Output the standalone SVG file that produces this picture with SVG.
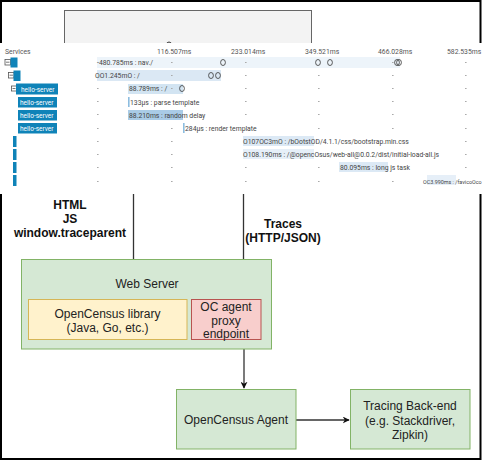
<svg xmlns="http://www.w3.org/2000/svg" width="482" height="461" viewBox="0 0 482 461">
<defs>
<style>
.lbl{font-family:"Liberation Sans",Arial,sans-serif;font-size:12px;fill:#222;text-anchor:middle}
.bold{font-weight:bold;fill:#111}
.ss{font-family:Roboto,"Liberation Sans",sans-serif;font-size:6.8px;fill:#444}
.ax{font-family:Roboto,"Liberation Sans",sans-serif;font-size:6.8px;fill:#555}
.hs{font-family:Roboto,"Liberation Sans",sans-serif;font-size:6.5px;fill:#fff}
.svc{fill:#0f83b8}
.dot{fill:#aaa}
.circ{fill:none;stroke:#333;stroke-width:0.8}
.icon{fill:#fff;stroke:#555;stroke-width:0.8}
.conn{stroke:#333;stroke-width:1.3;fill:none}
</style>
<marker id="arr" viewBox="0 0 10 10" refX="9" refY="5" markerWidth="7" markerHeight="7" markerUnits="userSpaceOnUse" orient="auto">
<path d="M0,0 L10,5 L0,10 L3,5 z" fill="#111"/>
</marker>
</defs>
<rect width="482" height="461" fill="#fff"/>
<rect x="1" y="1" width="479.5" height="458" fill="none" stroke="#000" stroke-width="2"/>
<rect x="64.5" y="10.5" width="247" height="40" fill="#f3f3f3" stroke="#666" stroke-width="1"/>
<ellipse cx="169" cy="45" rx="2.5" ry="3" fill="none" stroke="#333" stroke-width="1"/>

<g id="screenshot">
<rect x="0" y="43" width="482" height="151" fill="#fff"/>
<text class="ax" x="5" y="54">Services</text>
<text class="ax" x="157" y="54">116.507ms</text>
<text class="ax" x="231" y="54">233.014ms</text>
<text class="ax" x="305" y="54">349.521ms</text>
<text class="ax" x="378" y="54">466.028ms</text>
<text class="ax" x="447" y="54">582.535ms</text>

<rect x="97" y="57" width="303" height="11" fill="#edf4fa"/>
<rect x="97" y="70" width="124" height="11" fill="#dbe8f4"/>
<rect x="128" y="84" width="55" height="10" fill="#d2e4f2"/>
<rect x="128" y="97" width="1.6" height="10" fill="#8dbde0"/>
<rect x="128" y="110" width="55" height="10" fill="#a9cbe6"/>
<rect x="183" y="123" width="1.6" height="10" fill="#8dbde0"/>
<rect x="243" y="136" width="71" height="10" fill="#dce9f5"/>
<rect x="243" y="149" width="71" height="10" fill="#e6eff8"/>
<rect x="339" y="162" width="49" height="10" fill="#dce9f5"/>
<rect x="427" y="175" width="29" height="10" fill="#e6eff8"/>

<g class="dot">
<rect x="171" y="62" width="1.6" height="1"/><rect x="245" y="62" width="1.6" height="1"/><rect x="465" y="62" width="1.6" height="1"/><rect x="392" y="62" width="1.6" height="1"/>
<rect x="171" y="75" width="1.6" height="1"/><rect x="245" y="75" width="1.6" height="1"/><rect x="318" y="75" width="1.6" height="1"/><rect x="392" y="75" width="1.6" height="1"/><rect x="465" y="75" width="1.6" height="1"/>
<rect x="97" y="88" width="1.6" height="1"/><rect x="171" y="88" width="1.6" height="1"/><rect x="245" y="88" width="1.6" height="1"/><rect x="318" y="88" width="1.6" height="1"/><rect x="392" y="88" width="1.6" height="1"/><rect x="465" y="88" width="1.6" height="1"/>
<rect x="97" y="101" width="1.6" height="1"/><rect x="245" y="101" width="1.6" height="1"/><rect x="318" y="101" width="1.6" height="1"/><rect x="392" y="101" width="1.6" height="1"/><rect x="465" y="101" width="1.6" height="1"/>
<rect x="97" y="114" width="1.6" height="1"/><rect x="245" y="114" width="1.6" height="1"/><rect x="318" y="114" width="1.6" height="1"/><rect x="392" y="114" width="1.6" height="1"/><rect x="465" y="114" width="1.6" height="1"/>
<rect x="97" y="128" width="1.6" height="1"/><rect x="171" y="128" width="1.6" height="1"/><rect x="318" y="128" width="1.6" height="1"/><rect x="392" y="128" width="1.6" height="1"/><rect x="465" y="128" width="1.6" height="1"/>
<rect x="97" y="141" width="1.6" height="1"/><rect x="171" y="141" width="1.6" height="1"/><rect x="465" y="141" width="1.6" height="1"/>
<rect x="97" y="154" width="1.6" height="1"/><rect x="171" y="154" width="1.6" height="1"/><rect x="465" y="154" width="1.6" height="1"/>
<rect x="97" y="167" width="1.6" height="1"/><rect x="171" y="167" width="1.6" height="1"/><rect x="245" y="167" width="1.6" height="1"/><rect x="318" y="167" width="1.6" height="1"/><rect x="465" y="167" width="1.6" height="1"/>
<rect x="97" y="181" width="1.6" height="1"/><rect x="171" y="181" width="1.6" height="1"/><rect x="245" y="181" width="1.6" height="1"/><rect x="318" y="181" width="1.6" height="1"/><rect x="392" y="181" width="1.6" height="1"/>
</g>

<g class="circ">
<ellipse cx="223" cy="62.5" rx="2.4" ry="3"/><ellipse cx="318" cy="62.5" rx="2.4" ry="3"/><ellipse cx="330" cy="62.5" rx="2.4" ry="3"/><ellipse cx="397" cy="62.5" rx="2.4" ry="3"/><ellipse cx="399" cy="62.5" rx="2.4" ry="3"/>
<ellipse cx="211" cy="75.5" rx="2.4" ry="3"/><ellipse cx="218" cy="75.5" rx="2.4" ry="3"/>
<ellipse cx="182" cy="88.5" rx="2.4" ry="3"/>
</g>

<text class="ss" x="97" y="65">-480.785ms : nav./</text>
<text class="ss" x="95" y="78">OO1.245mO : /</text>
<text class="ss" x="129" y="91">88.789ms : /</text>
<text class="ss" x="130" y="104.5">133µs : parse template</text>
<text class="ss" x="129" y="117.5">88.210ms : random delay</text>
<text class="ss" x="185" y="130.5">284µs : render template</text>
<text class="ss" x="243" y="143.5">O107OC3mO : /bOotstOD/4.1.1/css/bootstrap.min.css</text>
<text class="ss" x="243" y="157">O108.190ms : /@opencOsus/web-all@0.0.2/dist/initial-load-all.js</text>
<text class="ss" x="340" y="170">80.095ms : long js task</text>
<text class="ss" x="423" y="183.5" style="font-size:5.4px">OC3.990ms : /favicoOco</text>

<g class="icon">
<rect x="5" y="59.5" width="5.5" height="5.5"/><rect x="8.5" y="72.5" width="5.5" height="5.5"/><rect x="11.5" y="86" width="5" height="5"/>
</g>
<g stroke="#555" stroke-width="0.8">
<line x1="6" y1="62.2" x2="9.5" y2="62.2"/><line x1="9.5" y1="75.2" x2="13" y2="75.2"/><line x1="12.5" y1="88.5" x2="15.5" y2="88.5"/>
</g>
<rect class="svc" x="10.5" y="57.5" width="7" height="10"/>
<rect class="svc" x="13.5" y="70.5" width="7" height="10.5"/>
<rect class="svc" x="16" y="83.5" width="42" height="11"/>
<rect class="svc" x="18" y="97" width="39" height="10.5"/>
<rect class="svc" x="18" y="110" width="39" height="10.5"/>
<rect class="svc" x="18" y="123" width="39" height="10.5"/>
<rect class="svc" x="13" y="136" width="3.5" height="11"/>
<rect class="svc" x="13" y="149" width="3.5" height="11"/>
<rect class="svc" x="13" y="162" width="3.5" height="11"/>
<rect class="svc" x="13" y="175" width="3.5" height="11"/>
<text class="hs" x="21" y="91.5">hello-server</text>
<text class="hs" x="20" y="104.5">hello-server</text>
<text class="hs" x="20" y="117.5">hello-server</text>
<text class="hs" x="20" y="130.5">hello-server</text>
</g>

<g id="connectors">
<line class="conn" x1="133.5" y1="194" x2="133.5" y2="259"/>
<line class="conn" x1="243.5" y1="194" x2="243.5" y2="298" marker-end="url(#arr)"/>
<line class="conn" x1="244" y1="339" x2="244" y2="388" marker-end="url(#arr)"/>
<line class="conn" x1="296" y1="420" x2="349" y2="420" marker-end="url(#arr)"/>
<text class="lbl bold" x="70" y="209">HTML</text>
<text class="lbl bold" x="70" y="223">JS</text>
<text class="lbl bold" x="70" y="237">window.traceparent</text>
<text class="lbl bold" x="283" y="228">Traces</text>
<text class="lbl bold" x="283" y="242">(HTTP/JSON)</text>
</g>

<g id="web-server">
<rect x="21.5" y="259.5" width="250" height="89.5" fill="#d5e8d4" stroke="#82b366"/>
<text class="lbl" x="147" y="288">Web Server</text>
</g>
<g id="opencensus-library">
<rect x="28.5" y="299.5" width="158.5" height="40" fill="#fff2cc" stroke="#d6b656"/>
<text class="lbl" x="107.5" y="318">OpenCensus library</text>
<text class="lbl" x="107.5" y="332">(Java, Go, etc.)</text>
</g>
<g id="oc-agent-proxy">
<rect x="191.5" y="299.5" width="69.5" height="40" fill="#f8cecc" stroke="#b85450"/>
<text class="lbl" x="226" y="311">OC agent</text>
<text class="lbl" x="226" y="325">proxy</text>
<text class="lbl" x="226" y="338">endpoint</text>
</g>
<g id="opencensus-agent">
<rect x="176.5" y="389.5" width="119.5" height="59.5" fill="#d5e8d4" stroke="#82b366"/>
<text class="lbl" x="236" y="423.5">OpenCensus Agent</text>
</g>
<g id="tracing-backend">
<rect x="350.5" y="389.5" width="119.5" height="59.5" fill="#d5e8d4" stroke="#82b366"/>
<text class="lbl" x="410" y="410">Tracing Back-end</text>
<text class="lbl" x="410" y="424.5">(e.g. Stackdriver,</text>
<text class="lbl" x="410" y="439">Zipkin)</text>
</g>
</svg>
